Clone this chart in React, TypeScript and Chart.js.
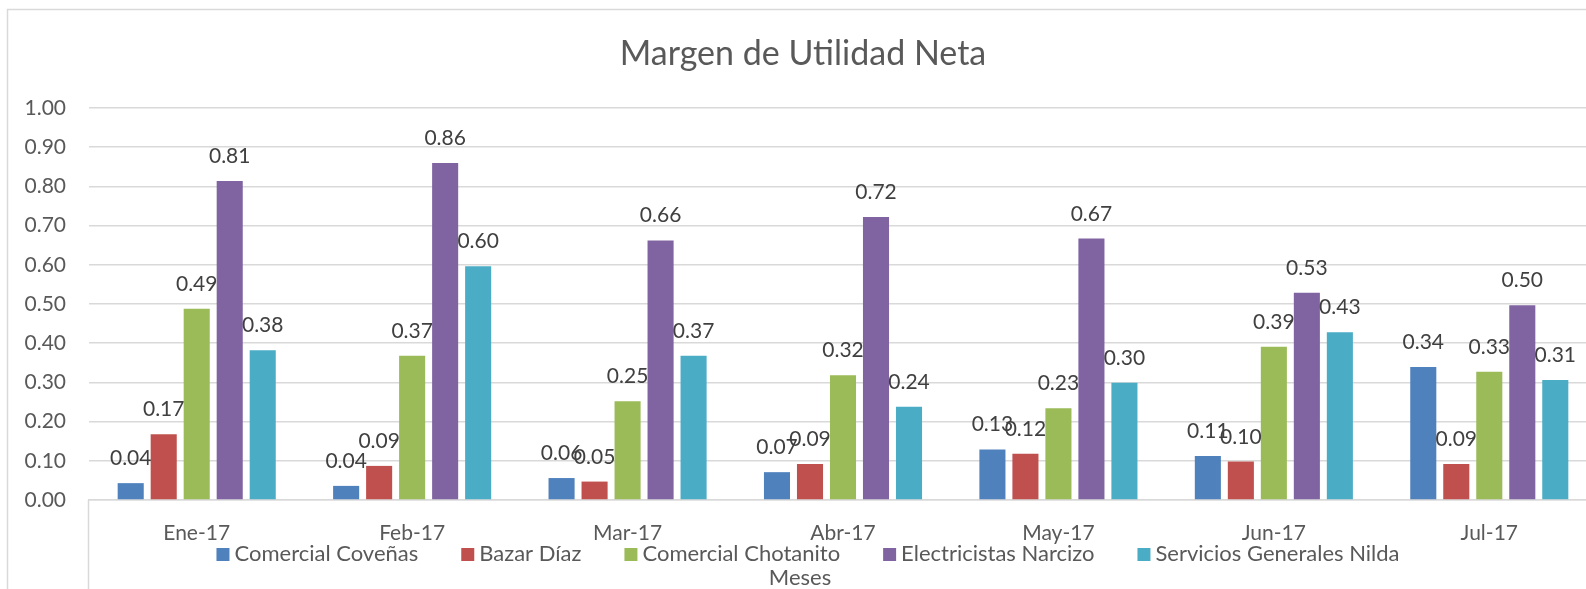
import { useEffect, useRef } from "react";
import { Chart, registerables } from "chart.js";

Chart.register(...registerables);

const chartTitle = "Margen de Utilidad Neta";
const axisTitle = "Meses";
const categories = ["Ene-17", "Feb-17", "Mar-17", "Abr-17", "May-17", "Jun-17", "Jul-17"];
const seriesNames = [
  "Comercial Coveñas",
  "Bazar Díaz",
  "Comercial Chotanito",
  "Electricistas Narcizo",
  "Servicios Generales Nilda",
];
const comercialCovenas = [0.043, 0.036, 0.056, 0.071, 0.129, 0.112, 0.339];
const bazarDiaz = [0.168, 0.087, 0.047, 0.092, 0.118, 0.098, 0.092];
const comercialChotanito = [0.488, 0.368, 0.252, 0.318, 0.234, 0.391, 0.327];
const electricistasNarcizo = [0.814, 0.86, 0.662, 0.722, 0.667, 0.529, 0.497];
const serviciosNilda = [0.382, 0.596, 0.368, 0.238, 0.299, 0.428, 0.306];
const seriesValues = [comercialCovenas, bazarDiaz, comercialChotanito, electricistasNarcizo, serviciosNilda];
const seriesColors = ["#4F81BD", "#C0504D", "#9BBB59", "#8064A2", "#4BACC6"];
const yMin = 0;
const yMax = 1;
const yStep = 0.1;

const FONT = "Lato, 'Open Sans', sans-serif";
const TEXT = "#595959";
const GRID = "#d9d9d9";
const FS = 21;
const LFS = 22;

const decorPlugin = {
  id: "decor",
  beforeDraw(chart: any) {
    const ctx = chart.ctx;
    ctx.save();
    ctx.fillStyle = "#ffffff";
    ctx.fillRect(0, 0, chart.width, chart.height);
    ctx.strokeStyle = GRID;
    ctx.lineWidth = 1.5;
    ctx.strokeRect(7.5, 9.5, chart.width + 20, chart.height + 20);
    ctx.restore();
  },
  afterDraw(chart: any) {
    const ctx = chart.ctx;
    const area = chart.chartArea;
    ctx.save();
    ctx.strokeStyle = GRID;
    ctx.lineWidth = 1.5;
    ctx.beginPath();
    ctx.moveTo(area.left - 0.5, area.bottom);
    ctx.lineTo(area.left - 0.5, chart.height);
    ctx.stroke();

    ctx.fillStyle = TEXT;
    ctx.font = `34px ${FONT}`;
    ctx.textAlign = "center";
    ctx.textBaseline = "alphabetic";
    ctx.fillText(chartTitle, 803, 65);

    ctx.font = `${LFS}px ${FONT}`;
    ctx.fillText(axisTitle, 800, 585);

    const box = 13;
    const boxGap = 5;
    const itemGap = 43;
    const widths = seriesNames.map((n) => ctx.measureText(n).width);
    const total =
      widths.reduce((a, w) => a + box + boxGap + w, 0) + itemGap * (seriesNames.length - 1);
    let x = 808 - total / 2;
    ctx.textAlign = "left";
    seriesNames.forEach((n, i) => {
      ctx.fillStyle = chart.data.datasets[i].backgroundColor;
      ctx.fillRect(x, 548, box, box);
      ctx.fillStyle = TEXT;
      ctx.fillText(n, x + box + boxGap, 561);
      x += box + boxGap + widths[i] + itemGap;
    });
    ctx.restore();
  },
  afterDatasetsDraw(chart: any) {
    const ctx = chart.ctx;
    ctx.save();
    ctx.font = `${FS}px ${FONT}`;
    ctx.fillStyle = "#404040";
    ctx.textAlign = "center";
    ctx.textBaseline = "alphabetic";
    chart.data.datasets.forEach((ds: any, i: number) => {
      const meta = chart.getDatasetMeta(i);
      meta.data.forEach((bar: any, j: number) => {
        const v = ds.data[j] as number;
        ctx.fillText(v.toFixed(2), bar.x, bar.y - 18);
      });
    });
    ctx.restore();
  },
};

export default function App() {
  const ref = useRef<HTMLCanvasElement>(null);
  useEffect(() => {
    if (!ref.current) return;
    const chart = new Chart(ref.current, {
      type: "bar",
      data: {
        labels: categories,
        datasets: seriesNames.map((name, i) => ({
          label: name,
          data: seriesValues[i],
          backgroundColor: seriesColors[i],
          borderWidth: 0,
          categoryPercentage: 0.766,
          barPercentage: 0.79,
        })),
      },
      options: {
        responsive: false,
        animation: false,
        devicePixelRatio: 1,
        layout: { padding: { top: 108, right: 7, left: 0, bottom: 0 } },
        plugins: {
          legend: { display: false },
          title: { display: false },
          tooltip: { enabled: false },
        },
        scales: {
          x: {
            grid: { display: false },
            border: { display: true, color: GRID, width: 1.5 },
            ticks: { color: TEXT, font: { family: FONT, size: FS }, padding: 13, maxRotation: 0 },
            afterFit: (s: any) => {
              s.height = 89;
            },
          },
          y: {
            min: yMin,
            max: yMax,
            grid: { color: GRID, lineWidth: 1.5, drawTicks: false },
            border: { display: false },
            ticks: {
              stepSize: yStep,
              color: TEXT,
              font: { family: FONT, size: FS },
              padding: 23,
              callback: (v: any) => Number(v).toFixed(2),
            },
            afterFit: (s: any) => {
              s.width = 89;
            },
          },
        },
      },
      plugins: [decorPlugin],
    });
    return () => chart.destroy();
  }, []);
  return (
    <div
      style={{
        position: "fixed",
        left: 0,
        top: 0,
        width: 1586,
        height: 589,
        overflow: "hidden",
        background: "#fff",
      }}
    >
      <canvas ref={ref} width={1604} height={589} style={{ width: 1604, height: 589, display: "block" }} />
    </div>
  );
}
